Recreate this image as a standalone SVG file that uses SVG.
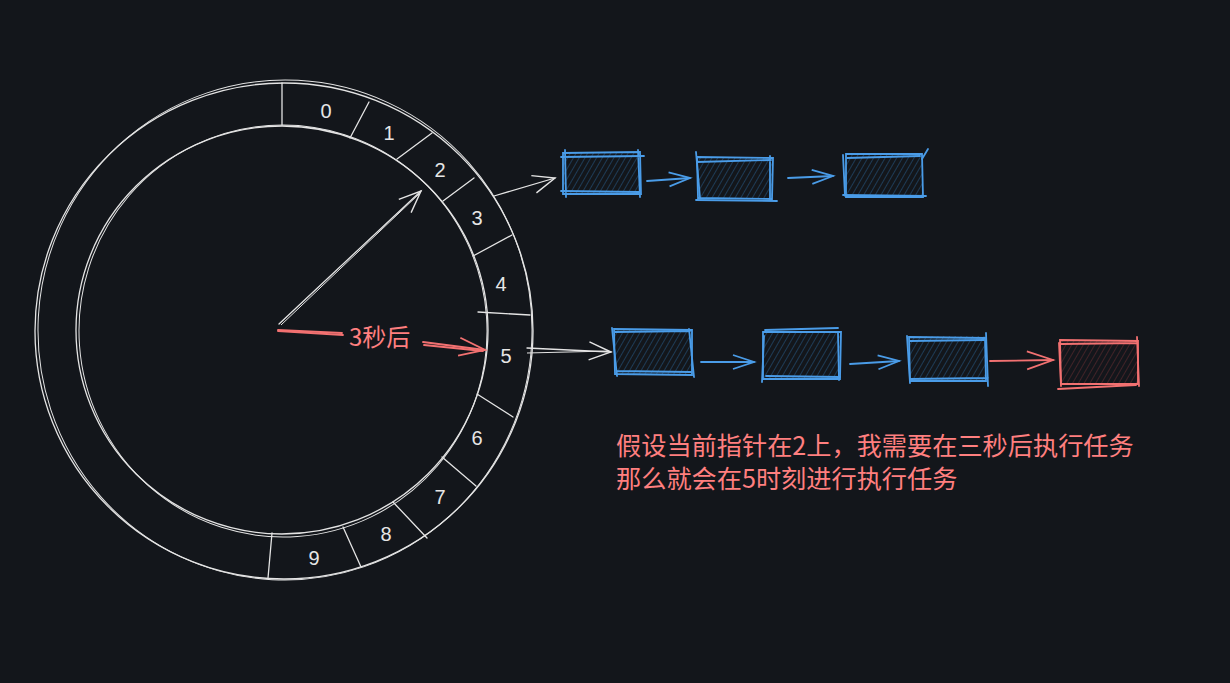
<svg xmlns="http://www.w3.org/2000/svg" width="1230" height="683" viewBox="0 0 1230 683">
<defs>
<style>
.w{fill:none;stroke:#e4e4e4;stroke-width:1.3;stroke-linecap:round}
.wt{fill:none;stroke:#e4e4e4;stroke-width:1}
.bl{fill:none;stroke:#4a9ce8;stroke-width:1.8;stroke-linecap:round}
.rd{fill:none;stroke:#f27171;stroke-width:1.8;stroke-linecap:round}
.num{font-family:"Liberation Sans","Noto Sans",sans-serif;font-size:20px;fill:#e6e6e6;text-anchor:middle}
.cn{font-family:"Noto Sans CJK SC","Noto Sans",sans-serif;font-size:25.2px;fill:#ff7f7f}
</style>
<pattern id="hb" width="5" height="10" patternUnits="userSpaceOnUse" patternTransform="rotate(30)">
<line x1="0" y1="0" x2="0" y2="10" stroke="#2a5f8f" stroke-width="1"/>
</pattern>
<pattern id="hr" width="5" height="10" patternUnits="userSpaceOnUse" patternTransform="rotate(30)">
<line x1="0" y1="0" x2="0" y2="10" stroke="#6e3034" stroke-width="1"/>
</pattern>
<marker id="aw" markerWidth="30" markerHeight="30" refX="24" refY="12" orient="auto" markerUnits="userSpaceOnUse">
<path d="M2,3 L24,12 L2,21" fill="none" stroke="#e4e4e4" stroke-width="1.4"/>
</marker>
<marker id="ab" markerWidth="30" markerHeight="30" refX="24" refY="12" orient="auto" markerUnits="userSpaceOnUse">
<path d="M3,5 L24,12 L3,19" fill="none" stroke="#4a9ce8" stroke-width="1.8"/>
</marker>
<marker id="ar" markerWidth="34" markerHeight="34" refX="28" refY="14" orient="auto" markerUnits="userSpaceOnUse">
<path d="M2,5 L28,14 L2,23" fill="none" stroke="#f27171" stroke-width="1.8"/>
</marker>
</defs>
<rect width="1230" height="683" fill="#13161b"/>

<g id="wheel">
<ellipse cx="284" cy="331" rx="249" ry="248" class="w"/>
<ellipse cx="285" cy="330" rx="247" ry="250" class="wt" transform="rotate(3 285 330)"/>
<ellipse cx="282" cy="330" rx="206" ry="204" class="w"/>
<ellipse cx="283" cy="331" rx="204" ry="206" class="wt" transform="rotate(-4 283 331)"/>
<g id="dividers">
<path class="w" d="M282,83 L282,125"/>
<path class="w" d="M350,138 L369,102"/>
<path class="w" d="M397,159 L432,133"/>
<path class="w" d="M443,201 L474,178"/>
<path class="w" d="M473,256 L512,235"/>
<path class="w" d="M478,312 L530,315"/>
<path class="w" d="M477,394 L513,417"/>
<path class="w" d="M442,457 L476,486"/>
<path class="w" d="M393,502 L427,538"/>
<path class="w" d="M343,527 L361,567"/>
<path class="w" d="M272,533 L268,578"/>
</g>
<g id="slots">
<text class="num" x="326" y="118">0</text>
<text class="num" x="389" y="140">1</text>
<text class="num" x="440" y="177">2</text>
<text class="num" x="477" y="225">3</text>
<text class="num" x="501" y="291">4</text>
<text class="num" x="506" y="363">5</text>
<text class="num" x="477" y="445">6</text>
<text class="num" x="440" y="504">7</text>
<text class="num" x="386" y="541">8</text>
<text class="num" x="314" y="565">9</text>
</g>
</g>

<g id="connectors">
<path class="w" d="M279,324 L421,191" marker-end="url(#aw)"/>
<path class="wt" d="M281,325 L419,194"/>
<path class="w" d="M494,196 L555,178" marker-end="url(#aw)"/>
<path class="w" d="M527,348 L611,352" marker-end="url(#aw)"/>
<path class="wt" d="M527,353 L609,351"/>
<path class="rd" d="M278,331 L343,335"/>
<path class="rd" d="M278,330 L342,333" stroke-width="1"/>
<path class="rd" d="M423,342 L485,350" marker-end="url(#ar)"/>
<path class="rd" d="M424,345 L483,351" stroke-width="1"/>
<path class="bl" d="M647,181 L690,178" marker-end="url(#ab)"/>
<path class="bl" d="M788,178 L833,176" marker-end="url(#ab)"/>
<path class="bl" d="M701,362 L754,362" marker-end="url(#ab)"/>
<path class="bl" d="M850,364 L899,361" marker-end="url(#ab)"/>
<path class="rd" d="M990,361 L1053,360" marker-end="url(#ar)"/>
</g>
<text id="label-3s" class="cn" x="349" y="346" style="font-size:24px">3秒后</text>

<g id="box-t1">
<rect x="563" y="153" width="77" height="41" fill="url(#hb)"/>
<path class="bl" d="M563,153 L640,152 L641,194 L563,194 Z"/>
<path class="bl" d="M565,150 L566,197 M561,157 L644,156 M561,191 L639,192 M638,150 L640,197" stroke-width="1"/>
</g>
<g id="box-t2">
<rect x="697" y="157" width="76" height="42" fill="url(#hb)"/>
<path class="bl" d="M697,157 L773,158 L772,199 L698,198 Z"/>
<path class="bl" d="M696,152 L700,198 M697,162 L771,160 M696,200 L777,201 M770,156 L770,199" stroke-width="1"/>
</g>
<g id="box-t3">
<rect x="845" y="154" width="78" height="43" fill="url(#hb)"/>
<path class="bl" d="M846,154 L922,154 L923,197 L846,197 Z"/>
<path class="bl" d="M843,155 L845,196 M847,158 L920,156 M843,195 L926,196 M922,159 L928,149" stroke-width="1"/>
</g>
<g id="box-b1">
<rect x="614" y="329" width="78" height="46" fill="url(#hb)"/>
<path class="bl" d="M614,329 L692,330 L692,375 L615,374 Z"/>
<path class="bl" d="M612,328 L617,376 M615,332 L690,331 M617,371 L691,372 M689,329 L694,377" stroke-width="1"/>
</g>
<g id="box-b2">
<rect x="763" y="331" width="78" height="48" fill="url(#hb)"/>
<path class="bl" d="M763,332 L841,332 L840,379 L763,379 Z"/>
<path class="bl" d="M764,336 L762,382 M765,330 L838,328 M766,376 L840,377 M838,333 L839,380" stroke-width="1"/>
</g>
<g id="box-b3">
<rect x="909" y="336" width="77" height="45" fill="url(#hb)"/>
<path class="bl" d="M909,337 L985,338 L986,381 L910,381 Z"/>
<path class="bl" d="M907,336 L910,383 M910,341 L984,340 M910,379 L988,378 M986,333 L988,386" stroke-width="1"/>
</g>
<g id="box-b4">
<rect x="1060" y="340" width="78" height="44" fill="url(#hr)"/>
<path class="rd" d="M1060,340 L1138,341 L1138,384 L1061,384 Z"/>
<path class="rd" d="M1059,343 L1061,386 M1061,344 L1137,343 M1058,389 L1136,385 M1137,337 L1139,386" stroke-width="1"/>
</g>

<g id="note">
<text class="cn" x="616" y="455">假设当前指针在2上，我需要在三秒后执行任务</text>
<text class="cn" x="616" y="488">那么就会在5时刻进行执行任务</text>
</g>
</svg>
